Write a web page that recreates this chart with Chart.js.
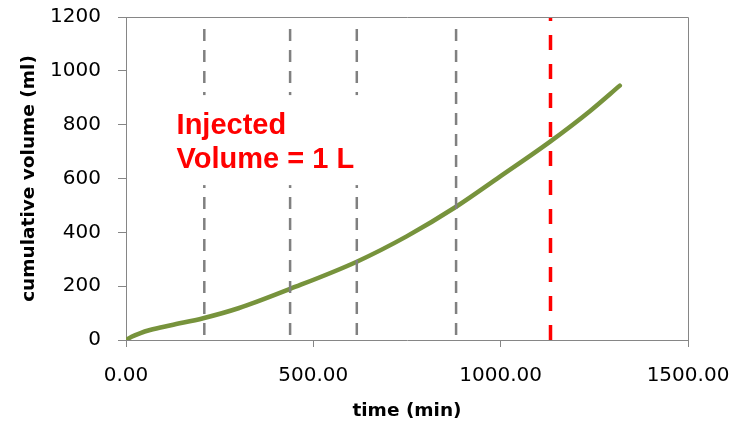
<!DOCTYPE html>
<html lang="en">
<head>
  <meta charset="UTF-8">
  <title>cumulative volume</title>
  <script src="https://cdn.jsdelivr.net/npm/chart.js"></script>
  <style>
    body { margin: 0; background: #fff; }
    canvas { display: block; }
  </style>
</head>
<body>
  <canvas id="volChart" width="751" height="426"></canvas>
  <script>
    // curve (time in min, volume in ml)
    const times   = [0, 15, 37, 64, 120, 206, 300, 438, 616, 749, 881, 998, 1132, 1238, 1318];
    const volumes = [0, 12, 25, 37, 55, 81, 118, 190, 291, 385, 495, 607, 737, 850, 945];
    // sampling markers and injection time
    const markerTimes = [209, 438, 616, 881];
    const markerTop = 1155;
    const injectTime = 1133;
    const xTicks = [0, 500, 1000, 1500];
    const yTicks = [0, 200, 400, 600, 800, 1000, 1200];
    const noteLines = ['Injected', 'Volume = 1 L'];

    const axisGray = '#868686';

    const datasets = markerTimes.map(t => ({
      data: [{x: t, y: markerTop}, {x: t, y: 0}],
      borderColor: '#808080', borderWidth: 2.5, borderDash: [12, 9],
      pointRadius: 0, borderCapStyle: 'butt'
    }));
    datasets.push({
      data: [{x: injectTime, y: 0}, {x: injectTime, y: yTicks[yTicks.length - 1]}],
      borderColor: '#ff0000', borderWidth: 3.5, borderDash: [15, 14],
      pointRadius: 0, borderCapStyle: 'butt'
    });
    datasets.push({
      data: times.map((t, i) => ({x: t, y: volumes[i]})),
      borderColor: '#77933c', borderWidth: 4.5, pointRadius: 0,
      cubicInterpolationMode: 'monotone', borderCapStyle: 'round'
    });

    // frame + text box with white background
    const extras = {
      id: 'extras',
      afterDatasetsDraw(chart) {
        const {ctx, chartArea: a, scales: {x, y}} = chart;
        ctx.save();
        ctx.strokeStyle = axisGray;
        ctx.lineWidth = 1;
        ctx.beginPath();
        ctx.moveTo(a.left, a.top + 0.5);
        ctx.lineTo(a.right + 0.5, a.top + 0.5);
        ctx.lineTo(a.right + 0.5, a.bottom);
        ctx.stroke();

        const tx = x.getPixelForValue(135);
        const ty = y.getPixelForValue(765);
        ctx.fillStyle = '#fff';
        ctx.fillRect(tx - 12, ty - 39, 200, 90);
        ctx.fillStyle = '#ff0000';
        ctx.font = 'bold 29px "Liberation Sans", Arial, sans-serif';
        ctx.textBaseline = 'alphabetic';
        noteLines.forEach((s, i) => ctx.fillText(s, tx, ty + i * 34));
        ctx.restore();
      }
    };

    const tickFont = { family: '"DejaVu Sans"', size: 20 };
    const titleFont = { family: '"DejaVu Sans"', size: 18.5, weight: 'bold' };

    new Chart(document.getElementById('volChart'), {
      type: 'line',
      data: { datasets },
      options: {
        responsive: false,
        animation: false,
        layout: { padding: { top: 17, right: 63, left: 0, bottom: 0 } },
        plugins: { legend: { display: false }, tooltip: { enabled: false } },
        scales: {
          x: {
            type: 'linear', min: 0, max: 1500,
            afterBuildTicks: s => { s.ticks = xTicks.map(v => ({value: v})); },
            afterFit: s => { s.height = 86; },
            grid: { drawOnChartArea: false, color: axisGray, tickLength: 7 },
            border: { color: axisGray, width: 1 },
            ticks: { color: '#000', padding: 17, font: tickFont,
                     callback: v => v.toFixed(2), maxRotation: 0 },
            title: { display: true, text: 'time (min)', color: '#000',
                     font: titleFont, padding: { bottom: 4, top: 0 } }
          },
          y: {
            min: 0, max: 1200,
            afterBuildTicks: s => { s.ticks = yTicks.map(v => ({value: v})); },
            afterFit: s => { s.width = 126; s.paddingTop = 0; s.paddingBottom = 0; },
            grid: { drawOnChartArea: false, color: axisGray, tickLength: 8 },
            border: { color: axisGray, width: 1 },
            ticks: { color: '#000', padding: 17, font: tickFont, callback: v => String(v) },
            title: { display: true, text: 'cumulative volume (ml)', color: '#000',
                     font: titleFont, padding: { top: 18, bottom: 0 } }
          }
        }
      },
      plugins: [extras]
    });
  </script>
</body>
</html>
